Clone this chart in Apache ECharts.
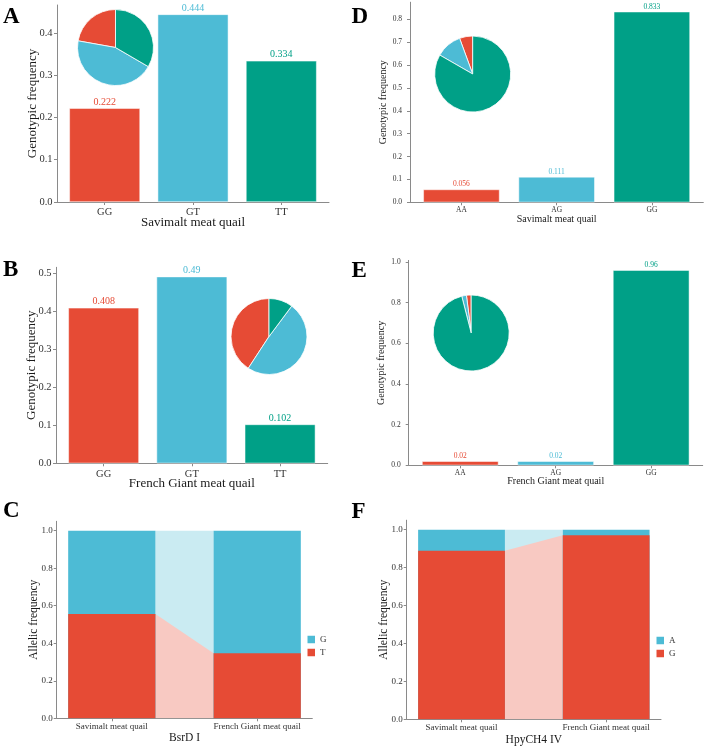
<!DOCTYPE html>
<html><head><meta charset="utf-8">
<script src="https://cdn.jsdelivr.net/npm/echarts@6/dist/echarts.min.js"></script>
<style>html,body{margin:0;padding:0;background:#fff}#c{width:706px;height:749px}</style>
</head><body><div id="c"></div>
<script>
// ---------------- data ----------------
const genotypesBsrD = ['GG', 'GT', 'TT'];
const genoSavimaltBsrD = [0.222, 0.444, 0.334];
const genoFrenchBsrD = [0.408, 0.49, 0.102];
const genotypesHpy = ['AA', 'AG', 'GG'];
const genoSavimaltHpy = [0.056, 0.111, 0.833];
const genoFrenchHpy = [0.02, 0.02, 0.96];
const breeds = ['Savimalt meat quail', 'French Giant meat quail'];
const allelesBsrD = ['G', 'T'];
const alleleBsrD_G = [0.444, 0.653];
const alleleBsrD_T = [0.556, 0.347];
const allelesHpy = ['A', 'G'];
const alleleHpy_A = [0.1115, 0.03];
const alleleHpy_G = [0.8885, 0.97];
const yTicksA = [0, 0.1, 0.2, 0.3, 0.4];
const yTicksB = [0, 0.1, 0.2, 0.3, 0.4, 0.5];
const yTicksD = [0, 0.1, 0.2, 0.3, 0.4, 0.5, 0.6, 0.7, 0.8];
const yTicksE = [0, 0.2, 0.4, 0.6, 0.8, 1.0];
const yTicksAllele = [0, 0.2, 0.4, 0.6, 0.8, 1.0];

// ---------------- style ----------------
const FONT = '"Liberation Serif","Times New Roman",serif';
const RED = '#E64B35', BLUE = '#4DBBD5', GREEN = '#00A087';
const RED_L = '#F8C9C2', BLUE_L = '#CAEBF2';
const COLS3 = [RED, BLUE, GREEN];
const AXIS = '#8a8a8a', TXT = '#333333', TITLE = '#1a1a1a';
const GENO_BAR_W = 0.8, ALLELE_BAR_W = 0.6;

const grids = [], xAxes = [], yAxes = [], series = [];

function addAxes(p) {
  const gi = grids.length;
  grids.push({left: p.box[0], top: p.box[1], width: p.box[2], height: p.box[3], containLabel: false, outerBoundsMode: 'none'});
  const idx = p.cats.map((_, i) => i);
  const n = p.cats.length;
  xAxes.push({
    type: 'value', gridIndex: gi, min: -p.expand, max: n - 1 + p.expand,
    axisLine: {show: true, onZero: false, lineStyle: {color: AXIS, width: 1}},
    axisTick: {show: true, customValues: idx, length: 3, lineStyle: {color: AXIS}},
    axisLabel: {customValues: idx, formatter: v => p.cats[Math.round(v)], fontSize: p.tickFs, color: TXT, margin: p.xMargin, fontFamily: FONT, hideOverlap: false},
    splitLine: {show: false},
    name: p.xName, nameLocation: 'middle', nameGap: p.xGap, nameMoveOverlap: false,
    nameTextStyle: {fontSize: p.titleFs, color: TITLE, fontFamily: FONT}
  });
  yAxes.push({
    type: 'value', gridIndex: gi, min: 0, max: p.yMax,
    axisLine: {show: true, onZero: false, lineStyle: {color: AXIS, width: 1}},
    axisTick: {show: true, customValues: p.yTicks, length: 3, lineStyle: {color: AXIS}},
    axisLabel: {customValues: p.yTicks, formatter: v => v.toFixed(1), fontSize: p.tickFs, color: TXT, margin: p.yMargin, fontFamily: FONT, hideOverlap: false},
    splitLine: {show: false},
    name: p.yName, nameLocation: 'middle', nameGap: p.yGap, nameMoveOverlap: false,
    nameTextStyle: {fontSize: p.titleFs, color: TITLE, fontFamily: FONT}
  });
  return gi;
}

function genoPanel(p, cats, vals) {
  const gi = addAxes(Object.assign({cats: cats, expand: 0.54, yMax: 1.05 * Math.max(...vals)}, p));
  series.push({
    type: 'bar', xAxisIndex: gi, yAxisIndex: gi, barWidth: (GENO_BAR_W * 100) + '%', silent: true,
    data: vals.map((v, i) => ({value: [i, v], itemStyle: {color: COLS3[i]}, label: {color: COLS3[i]}})),
    itemStyle: {borderColor: '#ffffff', borderWidth: 0.5},
    label: {show: true, position: 'top', distance: 1, fontSize: p.valFs, fontFamily: FONT, formatter: q => String(q.value[1])}
  });
  series.push({
    type: 'pie', center: p.pie, radius: 38, startAngle: 90, clockwise: false, silent: true, z: 5,
    data: vals.map((v, i) => ({name: cats[i], value: v, itemStyle: {color: COLS3[i]}})),
    label: {show: false}, labelLine: {show: false},
    itemStyle: {borderColor: '#ffffff', borderWidth: 0.8}
  });
}

function allelePanel(p, key, upperName, lowerName, upper, lower) {
  const gi = addAxes(Object.assign({cats: breeds, expand: 0.379, yMax: 1.05, yTicks: yTicksAllele}, p));
  const total = upper.map((u, i) => u + lower[i]);
  const rx0 = 0 + ALLELE_BAR_W / 2, rx1 = 1 - ALLELE_BAR_W / 2;
  series.push({
    type: 'line', xAxisIndex: gi, yAxisIndex: gi, silent: true, symbol: 'none', z: 1,
    data: [[rx0, total[0]], [rx1, total[1]]],
    lineStyle: {width: 0}, areaStyle: {color: BLUE_L, opacity: 1}
  });
  series.push({
    type: 'line', xAxisIndex: gi, yAxisIndex: gi, silent: true, symbol: 'none', z: 1,
    data: [[rx0, lower[0]], [rx1, lower[1]]],
    lineStyle: {width: 0}, areaStyle: {color: RED_L, opacity: 1}
  });
  series.push({
    name: key + ':' + upperName, type: 'bar', xAxisIndex: gi, yAxisIndex: gi, silent: true,
    barWidth: (ALLELE_BAR_W * 100) + '%', barGap: '-100%',
    itemStyle: {color: BLUE},
    data: total.map((v, i) => [i, v])
  });
  series.push({
    name: key + ':' + lowerName, type: 'bar', xAxisIndex: gi, yAxisIndex: gi, silent: true,
    barWidth: (ALLELE_BAR_W * 100) + '%', barGap: '-100%',
    itemStyle: {color: RED},
    data: lower.map((v, i) => [i, v])
  });
}

// A
genoPanel({box: [57, 5, 272, 197], yTicks: yTicksA, tickFs: 10.5, titleFs: 13, valFs: 10, xName: breeds[0], yName: 'Genotypic frequency', xGap: 14, yGap: 17.5, xMargin: 5, yMargin: 4.5, pie: [115.5, 47.5]}, genotypesBsrD, genoSavimaltBsrD);
// B
genoPanel({box: [56, 267.3, 271.7, 196], yTicks: yTicksB, tickFs: 10.5, titleFs: 13, valFs: 10, xName: breeds[1], yName: 'Genotypic frequency', xGap: 14, yGap: 17.5, xMargin: 5, yMargin: 4.5, pie: [269, 336.5]}, genotypesBsrD, genoFrenchBsrD);
// D
genoPanel({box: [410, 2.2, 293.3, 200.1], yTicks: yTicksD, tickFs: 7.5, titleFs: 10, valFs: 7.5, xName: breeds[0], yName: 'Genotypic frequency', xGap: 12, yGap: 22, xMargin: 3.5, yMargin: 8, pie: [472.7, 74]}, genotypesHpy, genoSavimaltHpy);
// E
genoPanel({box: [408.7, 260.4, 294, 204.9], yTicks: yTicksE, tickFs: 7.5, titleFs: 10, valFs: 7.5, xName: breeds[1], yName: 'Genotypic frequency', xGap: 11, yGap: 22, xMargin: 3.5, yMargin: 8, pie: [471.2, 333]}, genotypesHpy, genoFrenchHpy);
// C
allelePanel({box: [56.7, 521.3, 255.6, 197], tickFs: 9, titleFs: 11.5, xName: 'BsrD I', yName: 'Allelic frequency', xGap: 14, yGap: 16.5, xMargin: 4, yMargin: 4}, 'C', allelesBsrD[0], allelesBsrD[1], alleleBsrD_G, alleleBsrD_T);
// F
allelePanel({box: [406.7, 520.2, 254.3, 199.1], tickFs: 9, titleFs: 11.5, xName: 'HpyCH4 IV', yName: 'Allelic frequency', xGap: 14.5, yGap: 16.5, xMargin: 4, yMargin: 4}, 'F', allelesHpy[0], allelesHpy[1], alleleHpy_A, alleleHpy_G);

const legendBase = {orient: 'vertical', icon: 'rect', itemWidth: 7.5, itemHeight: 7.5, itemGap: 4, padding: 0, selectedMode: false,
  formatter: n => n.split(':')[1], textStyle: {fontSize: 9, fontFamily: FONT, color: TXT}};

const letters = [['A', 3, 6], ['B', 3, 259], ['C', 3, 500], ['D', 351.5, 6], ['E', 351.5, 260], ['F', 351.5, 501]];

const chart = echarts.init(document.getElementById('c'), null, {renderer: 'canvas'});
chart.setOption({
  animation: false,
  backgroundColor: '#ffffff',
  textStyle: {fontFamily: FONT},
  grid: grids, xAxis: xAxes, yAxis: yAxes, series: series,
  legend: [
    Object.assign({}, legendBase, {data: ['C:' + allelesBsrD[0], 'C:' + allelesBsrD[1]], left: 307.5, top: 635}),
    Object.assign({}, legendBase, {data: ['F:' + allelesHpy[0], 'F:' + allelesHpy[1]], left: 656.5, top: 636})
  ],
  graphic: letters.map(l => ({type: 'text', left: l[1], top: l[2], silent: true,
    style: {text: l[0], font: 'bold 23px "Liberation Serif","Times New Roman",serif', fill: '#000'}}))
});
</script></body></html>
